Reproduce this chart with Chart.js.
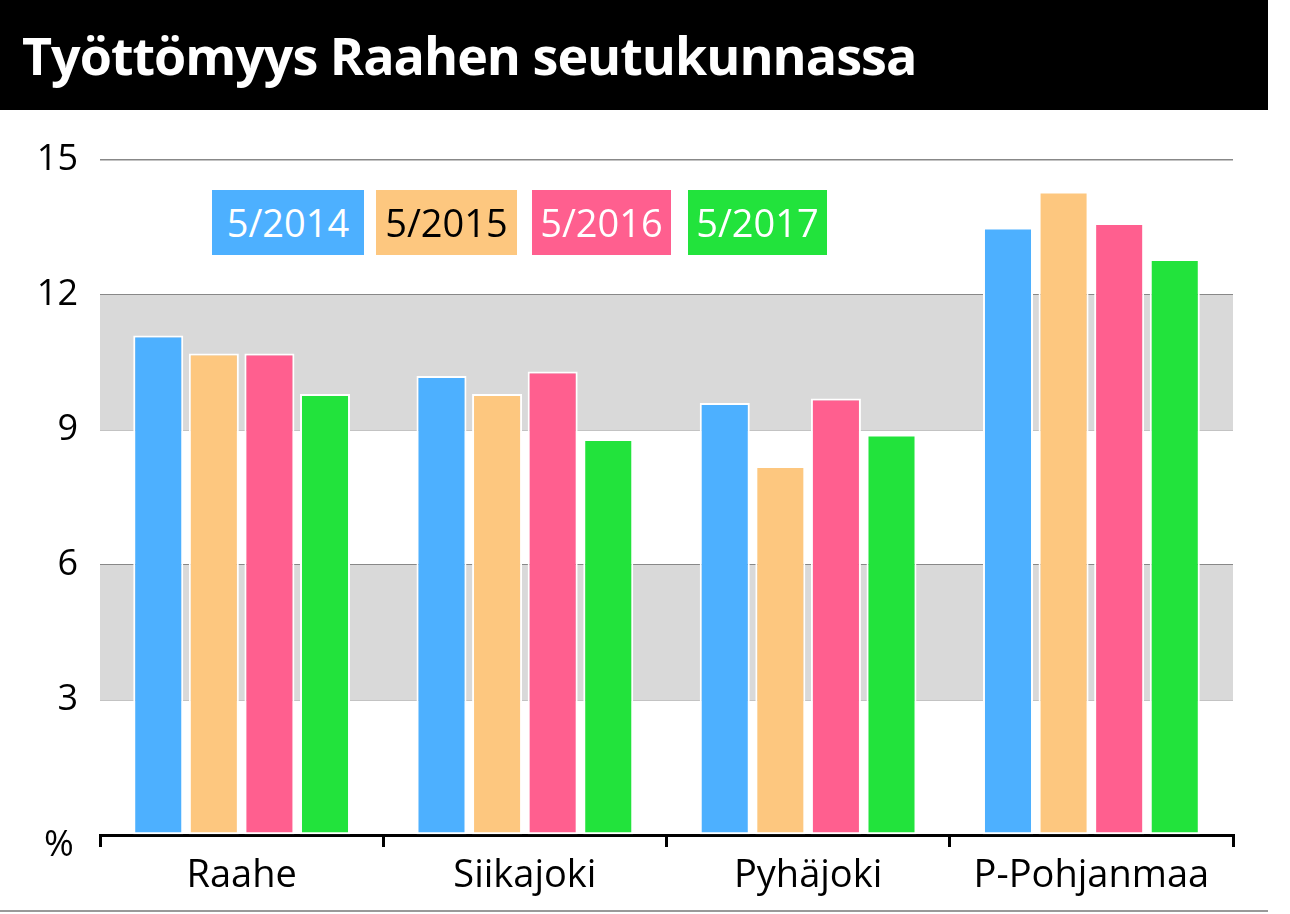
<!DOCTYPE html>
<html lang="fi">
<head>
<meta charset="UTF-8">
<title>Työttömyys Raahen seutukunnassa</title>
<script src="https://cdn.jsdelivr.net/npm/chart.js"></script>
<style>
  body { margin: 0; width: 1290px; height: 914px; background: #fff; position: relative; overflow: hidden; font-family: 'Open Sans', sans-serif; }
  #title { position: absolute; left: 0; top: 0; width: 1268px; height: 110px; background: #000; color: #fff;
           font: bold 52px 'Open Sans', sans-serif; line-height: 110px; padding-left: 22px; box-sizing: border-box; letter-spacing: -1px; }
  #wrap { position: absolute; left: 0; top: 0; width: 1290px; height: 914px; }
  .leg { position: absolute; top: 190px; height: 65px; font: 38px 'Open Sans', sans-serif; line-height: 65px; text-align: center; }
  #pct { position: absolute; left: 44px; top: 818px; font: 36px 'Open Sans', sans-serif; }
  #foot { position: absolute; left: 0; top: 910px; width: 1268px; height: 2px; background: #999; }
</style>
</head>
<body>
<div id="wrap"><canvas id="c" width="1290" height="914"></canvas></div>
<div id="title">Työttömyys Raahen seutukunnassa</div>
<div id="legend"></div>
<div id="pct">%</div>
<div id="foot"></div>
<script>
// data
const categories = ['Raahe', 'Siikajoki', 'Pyhäjoki', 'P-Pohjanmaa'];
const seriesNames = ['5/2014', '5/2015', '5/2016', '5/2017'];
const v2014 = [11.1, 10.2, 9.6, 13.5];
const v2015 = [10.7, 9.8, 8.2, 14.3];
const v2016 = [10.7, 10.3, 9.7, 13.6];
const v2017 = [9.8, 8.8, 8.9, 12.8];
const yTicks = [0, 3, 6, 9, 12, 15];

const colors = ['#4db0ff', '#fdc77f', '#ff5f8f', '#22e33c'];
const textColors = ['#fff', '#000', '#fff', '#fff'];
const legendX = [[212, 152], [376, 141], [532, 139], [688, 139]];

// legend as html boxes
const legend = document.getElementById('legend');
seriesNames.forEach((n, i) => {
  const d = document.createElement('div');
  d.className = 'leg';
  d.textContent = n;
  d.style.left = legendX[i][0] + 'px';
  d.style.width = legendX[i][1] + 'px';
  d.style.background = colors[i];
  d.style.color = textColors[i];
  legend.appendChild(d);
});

// grey bands between 3-6 and 9-12
const bands = {
  id: 'bands',
  beforeDatasetsDraw(chart) {
    const { ctx, chartArea: a, scales: { y } } = chart;
    ctx.save();
    ctx.fillStyle = '#d9d9d9';
    [[3, 6], [9, 12]].forEach(([lo, hi]) => {
      ctx.fillRect(a.left, y.getPixelForValue(hi), a.right - a.left, y.getPixelForValue(lo) - y.getPixelForValue(hi));
    });
    ctx.restore();
  }
};

const all = [v2014, v2015, v2016, v2017];
new Chart(document.getElementById('c'), {
  type: 'bar',
  data: {
    labels: categories,
    datasets: all.map((d, i) => ({
      label: seriesNames[i], data: d, backgroundColor: colors[i],
      borderColor: '#fff', borderWidth: 2, borderSkipped: false,
      categoryPercentage: 0.785, barPercentage: 0.9
    }))
  },
  options: {
    responsive: false, animation: false,
    layout: { padding: { top: 160, right: 57, bottom: 0, left: 0 } },
    plugins: { legend: { display: false }, tooltip: { enabled: false } },
    scales: {
      x: {
        afterFit(s) { s.height = 79; },
        grid: { drawOnChartArea: false, offset: true, color: '#000', lineWidth: 3, tickLength: 12 },
        border: { color: '#000', width: 3 },
        ticks: { color: '#000', font: { family: 'Open Sans', size: 38 }, padding: 6 }
      },
      y: {
        min: 0, max: 15,
        afterFit(s) { s.width = 100; },
        afterBuildTicks(s) { s.ticks = yTicks.map(v => ({ value: v })); },
        border: { display: false },
        grid: { drawTicks: false, color: c => c.tick && c.tick.value === 0 ? 'rgba(0,0,0,0)' : '#888', lineWidth: 1.5 },
        ticks: { color: '#000', font: { family: 'Open Sans', size: 36 }, padding: 22,
                 callback: v => v === 0 ? '' : v }
      }
    }
  },
  plugins: [bands]
});
</script>
</body>
</html>
